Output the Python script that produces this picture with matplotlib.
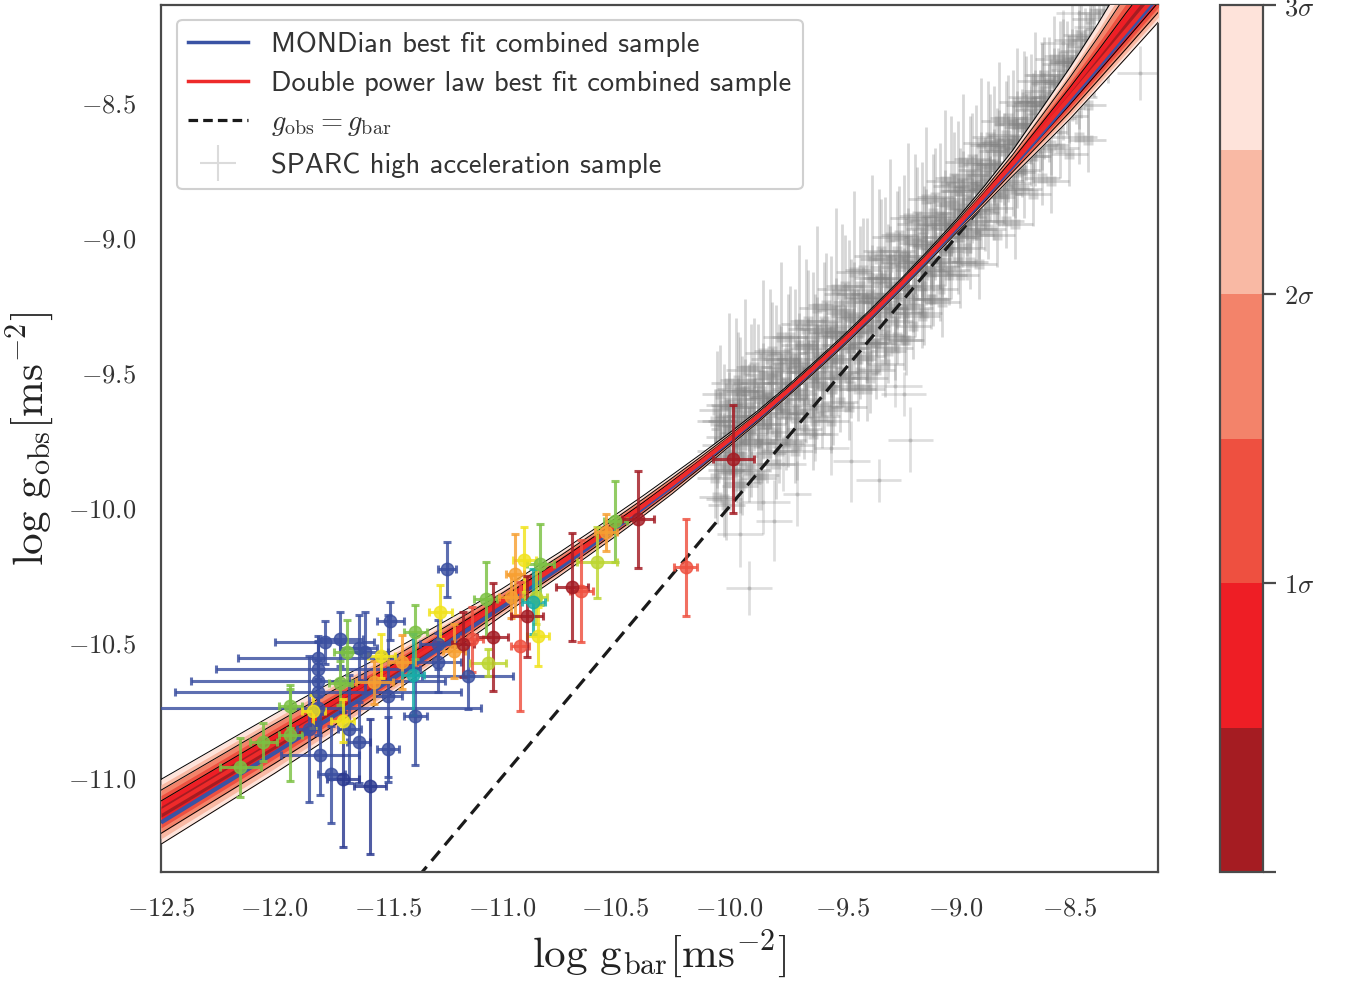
import numpy as np
import matplotlib
matplotlib.use("Agg")
import matplotlib.pyplot as plt
from matplotlib.colors import ListedColormap, BoundaryNorm
from matplotlib.lines import Line2D
from matplotlib.ticker import FuncFormatter
import matplotlib as mpl

plt.rcParams['mathtext.fontset'] = 'cm'

# ---------------- data ----------------
# best-fit curves sampled along log g_bar
curve_x = [-12.5, -12.25, -12.0, -11.75, -11.5, -11.25, -11.0, -10.75, -10.625, -10.5,
           -10.375, -10.25, -10.125, -10.0, -9.875, -9.75, -9.625, -9.5, -9.375, -9.25,
           -9.125, -9.0, -8.875, -8.75, -8.625, -8.5, -8.375, -8.25, -8.1]
mond_y = [-11.167, -11.038, -10.909, -10.778, -10.645, -10.509, -10.370, -10.227, -10.153, -10.078,
          -10.001, -9.922, -9.840, -9.756, -9.670, -9.580, -9.487, -9.391, -9.291, -9.187,
          -9.080, -8.969, -8.855, -8.738, -8.618, -8.496, -8.373, -8.249, -8.100]
dpl_y = [-11.127, -11.001, -10.875, -10.748, -10.619, -10.487, -10.352, -10.213, -10.141, -10.068,
         -9.993, -9.915, -9.834, -9.751, -9.666, -9.576, -9.483, -9.387, -9.286, -9.181,
         -9.073, -8.961, -8.846, -8.728, -8.607, -8.484, -8.360, -8.235, -8.085]
# 3-sigma half widths of the posterior band (upper / lower)
band_up = [0.12, 0.115, 0.11, 0.10, 0.08, 0.065, 0.05, 0.044, 0.042, 0.04,
           0.0375, 0.035, 0.03, 0.025, 0.022, 0.02, 0.02, 0.02, 0.02, 0.02,
           0.022, 0.025, 0.035, 0.05, 0.08, 0.11, 0.15, 0.20, 0.24]
band_lo = [0.12, 0.115, 0.11, 0.10, 0.08, 0.065, 0.05, 0.044, 0.042, 0.04,
           0.0375, 0.035, 0.03, 0.025, 0.022, 0.02, 0.02, 0.02, 0.02, 0.02,
           0.022, 0.025, 0.035, 0.045, 0.062, 0.08, 0.09, 0.10, 0.11]
sigma_levels = [0.5, 1.0, 1.5, 2.0, 2.5, 3.0]
sigma_colors = ['#A51C22', '#EE1E25', '#EE5040', '#F3836A', '#F9B9A4', '#FEE3DA']

# low-acceleration dwarf sample: x, y, xerr, yerr, colour
dw_x = [-11.81, -11.81, -11.81, -11.81, -11.81, -11.78, -11.71, -11.63, -11.60, -11.49,
        -11.24, -11.28, -11.28, -11.15, -11.38, -11.50, -11.67, -11.63, -11.80, -11.75,
        -11.70, -11.58, -11.50, -11.85,
        -12.15, -12.05, -11.93, -11.93, -11.68, -11.71, -11.38, -11.07, -10.83, -10.50,
        -10.58, -10.85, -11.06,
        -10.90, -10.84, -11.27, -11.53, -11.83, -11.70,
        -10.94, -10.96, -11.21, -11.44, -11.56, -10.54,
        -10.92, -11.13, -10.65, -10.19,
        -10.69, -10.89, -11.04, -11.17, -10.40, -9.98,
        -11.39, -10.86]
dw_y = [-10.741, -10.685, -10.644, -10.600, -10.556, -10.500, -10.489, -10.519, -10.537, -10.422,
        -10.230, -10.507, -10.574, -10.626, -10.774, -10.700, -10.822, -10.870, -10.915, -10.989,
        -11.007, -11.033, -10.896, -10.820,
        -10.963, -10.870, -10.844, -10.737, -10.537, -10.650, -10.463, -10.341, -10.211, -10.052,
        -10.204, -10.330, -10.575,
        -10.193, -10.478, -10.389, -10.550, -10.755, -10.790,
        -10.248, -10.330, -10.533, -10.574, -10.648, -10.093,
        -10.515, -10.489, -10.310, -10.222,
        -10.296, -10.404, -10.481, -10.507, -10.044, -9.822,
        -10.619, -10.350]
dw_xerr = [0.72, 0.63, 0.56, 0.45, 0.35, 0.22, 0.10, 0.08, 0.10, 0.06,
           0.04, 0.08, 0.10, 0.20, 0.05, 0.06, 0.05, 0.05, 0.17, 0.06,
           0.07, 0.07, 0.05, 0.05,
           0.09, 0.06, 0.05, 0.05, 0.06, 0.05, 0.05, 0.05, 0.06, 0.05,
           0.09, 0.05, 0.08,
           0.05, 0.05, 0.05, 0.06, 0.05, 0.05,
           0.04, 0.05, 0.05, 0.06, 0.08, 0.05,
           0.04, 0.05, 0.05, 0.05,
           0.07, 0.07, 0.07, 0.05, 0.07, 0.09,
           0.05, 0.05]
dw_yerr = [0.10, 0.12, 0.15, 0.10, 0.08, 0.08, 0.10, 0.12, 0.15, 0.07,
           0.10, 0.09, 0.11, 0.12, 0.18, 0.30, 0.20, 0.15, 0.15, 0.18,
           0.25, 0.25, 0.12, 0.27,
           0.11, 0.07, 0.17, 0.08, 0.12, 0.08, 0.10, 0.14, 0.15, 0.15,
           0.13, 0.10, 0.05,
           0.12, 0.11, 0.10, 0.08, 0.06, 0.08,
           0.15, 0.08, 0.10, 0.10, 0.08, 0.07,
           0.24, 0.12, 0.19, 0.18,
           0.20, 0.15, 0.20, 0.12, 0.18, 0.20,
           0.15, 0.12]
dw_col = (['#3A4FA0'] * 20 + ['#2B3990', '#2B3990', '#3A4FA0', '#3A4FA0']
          + ['#7CC143'] * 10 + ['#BDD631'] * 3 + ['#F1E31C'] * 6 + ['#F7A032'] * 6
          + ['#EF5140'] * 4 + ['#A31B23'] * 6 + ['#17ACA8'] * 2)

# SPARC high acceleration sample, grouped in columns of log g_bar
sp_col_x = [-10.06, -10.02, -9.98, -9.95, -9.91, -9.87, -9.83, -9.79, -9.75, -9.71,
            -9.67, -9.63, -9.59, -9.55, -9.51, -9.47, -9.43, -9.39, -9.35, -9.31,
            -9.27, -9.23, -9.19, -9.15, -9.11, -9.07, -9.03, -8.99, -8.95, -8.91,
            -8.87, -8.83, -8.79, -8.75, -8.71, -8.67, -8.63, -8.59, -8.55, -8.51,
            -8.47, -8.43, -8.39, -8.35]
sp_col_y = [[-9.68, -9.79, -9.89], [-9.62, -9.74, -9.84, -9.97], [-9.66, -9.76, -9.86],
            [-9.57, -9.70, -9.81, -9.92], [-9.63, -9.73, -9.84], [-9.54, -9.66, -9.76, -9.89],
            [-9.59, -9.69, -9.80], [-9.50, -9.62, -9.72, -9.84], [-9.54, -9.65, -9.76],
            [-9.45, -9.57, -9.67, -9.79], [-9.50, -9.60, -9.71], [-9.40, -9.52, -9.62, -9.73],
            [-9.45, -9.55, -9.66], [-9.35, -9.46, -9.56, -9.68], [-9.40, -9.50, -9.61],
            [-9.29, -9.41, -9.52, -9.63], [-9.35, -9.45, -9.56], [-9.23, -9.34, -9.44, -9.56],
            [-9.29, -9.39, -9.49], [-9.15, -9.26, -9.36, -9.47], [-9.21, -9.31, -9.41],
            [-9.07, -9.18, -9.28, -9.38], [-9.12, -9.23, -9.33], [-9.00, -9.09, -9.18, -9.29],
            [-9.03, -9.13, -9.23], [-8.92, -9.00, -9.09, -9.19], [-8.95, -9.04, -9.14],
            [-8.83, -8.91, -9.00, -9.09], [-8.86, -8.95, -9.04], [-8.75, -8.82, -8.90, -8.99],
            [-8.77, -8.85, -8.94], [-8.66, -8.73, -8.81, -8.89], [-8.68, -8.76, -8.84],
            [-8.58, -8.64, -8.72, -8.80], [-8.59, -8.67, -8.75], [-8.50, -8.56, -8.63, -8.70],
            [-8.51, -8.58, -8.66], [-8.43, -8.48, -8.54, -8.61], [-8.42, -8.49, -8.56],
            [-8.35, -8.40, -8.46, -8.52], [-8.35, -8.41, -8.47], [-8.29, -8.34, -8.41],
            [-8.26, -8.32, -8.37], [-8.23, -8.29]]
sp_col_yerr = [[0.12, 0.10, 0.15], [0.15, 0.09, 0.12, 0.14], [0.10, 0.18, 0.12],
               [0.20, 0.11, 0.13, 0.10], [0.16, 0.10, 0.14], [0.22, 0.12, 0.15, 0.12],
               [0.14, 0.10, 0.11], [0.25, 0.13, 0.12, 0.13], [0.15, 0.12, 0.10],
               [0.26, 0.14, 0.10, 0.12], [0.16, 0.12, 0.11], [0.27, 0.14, 0.12, 0.13],
               [0.15, 0.11, 0.12], [0.28, 0.13, 0.10, 0.12], [0.17, 0.12, 0.11],
               [0.28, 0.13, 0.12, 0.12], [0.16, 0.11, 0.12], [0.30, 0.13, 0.10, 0.12],
               [0.15, 0.12, 0.11], [0.30, 0.14, 0.11, 0.12], [0.16, 0.11, 0.12],
               [0.30, 0.14, 0.12, 0.11], [0.15, 0.12, 0.12], [0.28, 0.13, 0.11, 0.12],
               [0.16, 0.12, 0.11], [0.27, 0.13, 0.10, 0.12], [0.15, 0.12, 0.11],
               [0.26, 0.13, 0.11, 0.12], [0.15, 0.12, 0.12], [0.24, 0.13, 0.11, 0.12],
               [0.14, 0.12, 0.11], [0.22, 0.13, 0.10, 0.12], [0.14, 0.12, 0.11],
               [0.20, 0.13, 0.10, 0.12], [0.14, 0.12, 0.10], [0.18, 0.12, 0.10, 0.11],
               [0.13, 0.11, 0.10], [0.17, 0.12, 0.10, 0.11], [0.12, 0.11, 0.10],
               [0.15, 0.12, 0.10, 0.10], [0.12, 0.10, 0.11], [0.14, 0.11, 0.10],
               [0.12, 0.10, 0.11], [0.12, 0.10]]
sp_col2_x = [-10.04, -10.00, -9.96, -9.93, -9.89, -9.85, -9.81, -9.77, -9.73, -9.69,
             -9.65, -9.61, -9.57, -9.53, -9.49, -9.45, -9.41, -9.37, -9.33, -9.29,
             -9.25, -9.21, -9.17, -9.13, -9.09, -9.05, -9.01, -8.97, -8.93, -8.89,
             -8.85, -8.81, -8.77, -8.73, -8.69, -8.65, -8.61, -8.57, -8.53, -8.49,
             -8.45, -8.41, -8.37, -8.33]
sp_col2_y = [[-9.58, -9.68, -9.77], [-9.54, -9.62, -9.71, -9.80], [-9.53, -9.63, -9.72],
             [-9.49, -9.57, -9.66, -9.75], [-9.48, -9.58, -9.67], [-9.43, -9.51, -9.60, -9.69],
             [-9.42, -9.52, -9.61], [-9.37, -9.45, -9.54, -9.63], [-9.37, -9.47, -9.56],
             [-9.32, -9.40, -9.49, -9.58], [-9.31, -9.41, -9.50], [-9.26, -9.34, -9.43, -9.52],
             [-9.25, -9.35, -9.44], [-9.19, -9.27, -9.36, -9.45], [-9.18, -9.28, -9.37],
             [-9.13, -9.21, -9.30, -9.39], [-9.12, -9.22, -9.31], [-9.07, -9.15, -9.24, -9.33],
             [-9.05, -9.15, -9.24], [-9.00, -9.08, -9.17, -9.26], [-8.99, -9.09, -9.18],
             [-8.93, -9.01, -9.10, -9.19], [-8.92, -9.02, -9.11], [-8.86, -8.94, -9.03, -9.12],
             [-8.85, -8.95, -9.04], [-8.79, -8.87, -8.96, -9.05], [-8.78, -8.88, -8.97],
             [-8.72, -8.80, -8.89, -8.98], [-8.71, -8.81, -8.90], [-8.65, -8.73, -8.82, -8.91],
             [-8.63, -8.73, -8.82], [-8.57, -8.65, -8.74, -8.83], [-8.56, -8.66, -8.75],
             [-8.50, -8.58, -8.67, -8.76], [-8.48, -8.58, -8.67], [-8.42, -8.50, -8.59, -8.68],
             [-8.40, -8.50, -8.59], [-8.34, -8.42, -8.51], [-8.33, -8.43, -8.52],
             [-8.27, -8.35, -8.44], [-8.25, -8.35, -8.44], [-8.19, -8.27, -8.36],
             [-8.17, -8.27], [-8.16, -8.24, -8.33]]
sp_col2_yerr = [[0.18, 0.11, 0.12], [0.26, 0.12, 0.11, 0.13], [0.18, 0.11, 0.12],
                [0.26, 0.12, 0.11, 0.13], [0.18, 0.11, 0.12], [0.27, 0.12, 0.11, 0.13],
                [0.18, 0.11, 0.12], [0.28, 0.12, 0.11, 0.13], [0.19, 0.11, 0.12],
                [0.29, 0.12, 0.11, 0.13], [0.19, 0.11, 0.12], [0.30, 0.12, 0.11, 0.13],
                [0.19, 0.11, 0.12], [0.30, 0.12, 0.11, 0.13], [0.19, 0.11, 0.12],
                [0.30, 0.12, 0.11, 0.13], [0.19, 0.11, 0.12], [0.30, 0.12, 0.11, 0.13],
                [0.19, 0.11, 0.12], [0.29, 0.12, 0.11, 0.13], [0.18, 0.11, 0.12],
                [0.28, 0.12, 0.11, 0.13], [0.18, 0.11, 0.12], [0.27, 0.12, 0.11, 0.13],
                [0.18, 0.11, 0.12], [0.26, 0.12, 0.11, 0.13], [0.17, 0.11, 0.12],
                [0.25, 0.12, 0.11, 0.13], [0.17, 0.11, 0.12], [0.24, 0.12, 0.11, 0.13],
                [0.16, 0.11, 0.12], [0.22, 0.12, 0.11, 0.13], [0.16, 0.11, 0.12],
                [0.20, 0.12, 0.11, 0.13], [0.15, 0.11, 0.12], [0.18, 0.12, 0.11, 0.13],
                [0.14, 0.11, 0.12], [0.16, 0.12, 0.11], [0.14, 0.11, 0.12],
                [0.14, 0.12, 0.11], [0.13, 0.11, 0.12], [0.13, 0.12, 0.11],
                [0.12, 0.11], [0.12, 0.11, 0.10]]
sp_col3_x = [-10.05, -10.01, -9.97, -9.94, -9.90, -9.86, -9.82, -9.78, -9.74, -9.70,
             -9.66, -9.62, -9.58, -9.54, -9.50, -9.46, -9.42, -9.38, -9.34, -9.30,
             -9.26, -9.22, -9.18, -9.14, -9.10, -9.06, -9.02, -8.98, -8.94, -8.90,
             -8.86, -8.82, -8.78, -8.74, -8.70, -8.66, -8.62, -8.58, -8.54, -8.50,
             -8.46, -8.42]
sp_col3_y = [[-9.64, -9.81, -9.96], [-9.68, -9.86, -9.99], [-9.56, -9.70, -9.87],
             [-9.60, -9.77, -9.91], [-9.54, -9.71, -9.86], [-9.57, -9.75, -9.88],
             [-9.45, -9.59, -9.76], [-9.48, -9.65, -9.79], [-9.43, -9.60, -9.75],
             [-9.46, -9.64, -9.77], [-9.34, -9.48, -9.65], [-9.37, -9.54, -9.68],
             [-9.31, -9.48, -9.63], [-9.33, -9.51, -9.64], [-9.21, -9.35, -9.52],
             [-9.24, -9.41, -9.55], [-9.18, -9.35, -9.50], [-9.21, -9.39, -9.52],
             [-9.08, -9.22, -9.39], [-9.11, -9.28, -9.42], [-9.05, -9.22, -9.37],
             [-9.07, -9.25, -9.38], [-8.95, -9.09, -9.26], [-8.97, -9.14, -9.28],
             [-8.91, -9.08, -9.23], [-8.93, -9.11, -9.24], [-8.81, -8.95, -9.12],
             [-8.83, -9.00, -9.14], [-8.77, -8.94, -9.09], [-8.79, -8.97, -9.10],
             [-8.66, -8.80, -8.97], [-8.68, -8.85, -8.99], [-8.62, -8.79, -8.94],
             [-8.64, -8.82, -8.95], [-8.51, -8.65, -8.82], [-8.53, -8.70, -8.84],
             [-8.46, -8.63, -8.78], [-8.48, -8.66, -8.79], [-8.36, -8.50, -8.67],
             [-8.38, -8.55, -8.69], [-8.31, -8.48, -8.63], [-8.33, -8.51, -8.64]]
sp_col3_yerr = [[0.22, 0.12, 0.10], [0.14, 0.11, 0.13], [0.26, 0.12, 0.11], [0.16, 0.10, 0.12],
                [0.22, 0.12, 0.10], [0.14, 0.11, 0.13], [0.26, 0.12, 0.11], [0.16, 0.10, 0.12],
                [0.22, 0.12, 0.10], [0.14, 0.11, 0.13], [0.26, 0.12, 0.11], [0.16, 0.10, 0.12],
                [0.22, 0.12, 0.10], [0.14, 0.11, 0.13], [0.26, 0.12, 0.11], [0.16, 0.10, 0.12],
                [0.22, 0.12, 0.10], [0.14, 0.11, 0.13], [0.26, 0.12, 0.11], [0.16, 0.10, 0.12],
                [0.22, 0.12, 0.10], [0.14, 0.11, 0.13], [0.26, 0.12, 0.11], [0.16, 0.10, 0.12],
                [0.22, 0.12, 0.10], [0.14, 0.11, 0.13], [0.26, 0.12, 0.11], [0.16, 0.10, 0.12],
                [0.22, 0.12, 0.10], [0.14, 0.11, 0.13], [0.24, 0.12, 0.11], [0.16, 0.10, 0.12],
                [0.20, 0.12, 0.10], [0.14, 0.11, 0.13], [0.20, 0.12, 0.11], [0.14, 0.10, 0.12],
                [0.18, 0.12, 0.10], [0.14, 0.11, 0.12], [0.16, 0.12, 0.11], [0.13, 0.10, 0.12],
                [0.15, 0.12, 0.10], [0.13, 0.11, 0.12]]
sp_core_xerr = 0.08
# scattered SPARC points away from the main cloud
sp_out_x = [-9.23, -9.27, -9.20, -9.34, -9.91, -9.46, -9.62, -9.76, -9.85, -9.95,
            -9.80, -9.70, -9.55, -8.53, -8.46, -8.40, -8.19, -8.62]
sp_out_y = [-9.58, -9.55, -9.75, -9.90, -10.30, -9.83, -9.73, -9.84, -9.98, -10.10,
            -10.05, -9.95, -9.78, -8.28, -8.17, -8.22, -8.39, -8.40]
sp_out_xerr = [0.10, 0.12, 0.10, 0.10, 0.10, 0.08, 0.10, 0.10, 0.12, 0.10,
               0.08, 0.06, 0.08, 0.10, 0.10, 0.08, 0.10, 0.08]
sp_out_yerr = [0.08, 0.08, 0.12, 0.08, 0.10, 0.15, 0.10, 0.10, 0.12, 0.12,
               0.15, 0.12, 0.10, 0.12, 0.10, 0.10, 0.10, 0.12]

one_to_one = [-12.5, -8.1]

xticks = [-12.5, -12.0, -11.5, -11.0, -10.5, -10.0, -9.5, -9.0, -8.5]
yticks = [-11.0, -10.5, -10.0, -9.5, -9.0, -8.5]
cbar_ticks = [0, 1, 2, 3]
cbar_labels = ['', r'$1\sigma$', r'$2\sigma$', r'$3\sigma$']

# ---------------- figure ----------------
W, H = 1349, 985
fig = plt.figure(figsize=(W / 100, H / 100), dpi=100)
ax = fig.add_axes([161 / W, 113 / H, 997 / W, 867 / H])
cax = fig.add_axes([1220 / W, 113 / H, 43 / W, 867 / H])

spine_col = '#4a4a4a'

# SPARC cloud
sx, sy, sye = [], [], []
for cols_x, cols_y, cols_e in [(sp_col_x, sp_col_y, sp_col_yerr),
                               (sp_col2_x, sp_col2_y, sp_col2_yerr),
                               (sp_col3_x, sp_col3_y, sp_col3_yerr)]:
    for x, ys, es in zip(cols_x, cols_y, cols_e):
        for y, e in zip(ys, es):
            sx.append(x)
            sy.append(y)
            sye.append(e)
ax.errorbar(sx, sy, xerr=sp_core_xerr, yerr=sye, fmt='s', ms=7, color='#808080',
            mec='none', ecolor='#808080', elinewidth=2.0, alpha=0.31, zorder=1)
ax.errorbar(sp_out_x, sp_out_y, xerr=sp_out_xerr, yerr=sp_out_yerr, fmt='o', ms=3,
            color='#888888', mec='none', ecolor='#8a8a8a', elinewidth=2.0, alpha=0.28, zorder=1)

# 1:1 line
ax.plot(one_to_one, one_to_one, color='#1a1a1a', lw=2.3, dashes=(4, 2.4), zorder=2)

# posterior band
cx = np.array(curve_x)
cy = np.array(dpl_y)
wu = np.array(band_up)
wl = np.array(band_lo)
for lev, col in zip(sigma_levels[::-1], sigma_colors[::-1]):
    ax.fill_between(cx, cy - wl * lev / 3.0, cy + wu * lev / 3.0, color=col, lw=0, zorder=3)
for lev in [1.0, 2.0, 3.0]:
    ax.plot(cx, cy + wu * lev / 3.0, color='black', lw=0.7, zorder=3.5)
    ax.plot(cx, cy - wl * lev / 3.0, color='black', lw=0.7, zorder=3.5)

# best fit curves
ax.plot(curve_x, mond_y, color='#3A53A4', lw=3, zorder=4, solid_capstyle='butt')
ax.plot(curve_x, dpl_y, color='#EE2A2A', lw=3, zorder=4.5, solid_capstyle='butt')

# dwarf points
for x, y, xe, ye, c in zip(dw_x, dw_y, dw_xerr, dw_yerr, dw_col):
    ax.errorbar([x], [y], xerr=[xe], yerr=[ye], fmt='o', ms=9, color=c, mec=c,
                ecolor=c, elinewidth=2.2, capsize=3, capthick=2.2, alpha=0.82, zorder=5)

ax.set_xlim(-12.5, -8.11)
ax.set_ylim(-11.35, -8.14)
ax.set_xticks(xticks)
ax.set_yticks(yticks)
fmt = FuncFormatter(lambda v, p: r'$%.1f$' % v)
ax.xaxis.set_major_formatter(fmt)
ax.yaxis.set_major_formatter(fmt)
ax.tick_params(axis='x', length=0, pad=17, labelsize=19, colors='#333333')
ax.tick_params(axis='y', length=0, pad=18, labelsize=19, colors='#333333')
for s in ax.spines.values():
    s.set_color(spine_col)
    s.set_linewidth(1.6)

ax.set_xlabel(r'$\log\,\mathrm{g_{bar}}[\mathrm{ms}^{-2}]$', fontsize=31, labelpad=5, color='#222222')
ax.set_ylabel(r'$\log\,\mathrm{g_{obs}}[\mathrm{ms}^{-2}]$', fontsize=31, labelpad=8, color='#222222')

# legend
h_mond = Line2D([], [], color='#3A53A4', lw=2.5)
h_dpl = Line2D([], [], color='#EE2A2A', lw=2.5)
h_one = Line2D([], [], color='#1a1a1a', lw=2.3, dashes=(3, 1.6))
h_sp = Line2D([], [], color='#999999', marker='+', ms=26, mew=1.5, lw=0, alpha=0.35)
leg = ax.legend([h_mond, h_dpl, h_one, h_sp],
                ['MONDian best fit combined sample', 'Double power law best fit combined sample',
                 r'$g_{\rm obs} = g_{\rm bar}$', 'SPARC high acceleration sample'],
                loc='upper left', bbox_to_anchor=(0.016, 0.983), borderaxespad=0,
                prop={'family': 'cmss10', 'size': 20.5}, handlelength=2.1, handletextpad=0.8,
                labelspacing=0.5, frameon=True, fancybox=True, framealpha=1, borderpad=0.4)
leg.set_zorder(10)
leg.get_frame().set_edgecolor('#d0d0d0')
leg.get_frame().set_linewidth(1.5)
for t in leg.get_texts():
    t.set_color('#333333')

# colorbar
cmap = ListedColormap(sigma_colors)
norm = BoundaryNorm([0.0] + sigma_levels, cmap.N)
cb = mpl.colorbar.ColorbarBase(cax, cmap=cmap, norm=norm, orientation='vertical')
cb.set_ticks(cbar_ticks)
cb.set_ticklabels(cbar_labels)
cax.minorticks_off()
cb.outline.set_edgecolor(spine_col)
cb.outline.set_linewidth(1.6)
cax.tick_params(length=9, width=1.6, color=spine_col, labelsize=19, pad=6, labelcolor='#333333')

fig.savefig('out.png', dpi=100)
